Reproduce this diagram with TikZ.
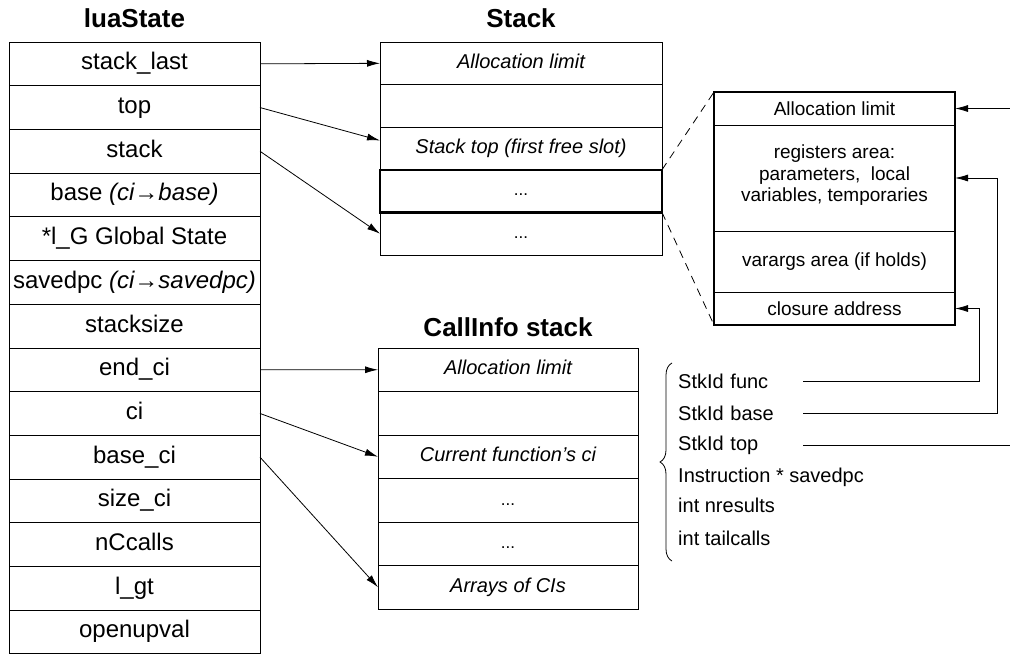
\documentclass[tikz,border=0pt]{standalone}
\usepackage{fontspec}
\setmainfont{Liberation Sans}
\usetikzlibrary{arrows.meta,positioning,decorations.pathreplacing}

\begin{document}
\begin{tikzpicture}[x=1pt, y=-1pt,
    cell/.style={rectangle, draw, line width=0.8pt, minimum width=251pt, minimum height=43.7pt, inner sep=0pt, outer sep=0pt, text height=17pt, text depth=5pt, font=\fontsize{24}{28}\selectfont},
    slot/.style={cell, minimum width=282pt, minimum height=42.6pt, text height=14pt, text depth=4.5pt, font=\fontsize{20}{24}\selectfont\itshape},
    cislot/.style={slot, minimum width=260pt, minimum height=43.5pt},
    dots/.style={font=\fontsize{17}{18}\selectfont},
    frame/.style={rectangle, draw, line width=0.8pt, minimum width=241pt, inner sep=0pt, outer sep=0pt, align=center, font=\fontsize{19}{21.5}\selectfont},
    title/.style={font=\fontsize{26}{30}\selectfont\bfseries},
    field/.style={anchor=west, inner sep=0pt, font=\fontsize{20}{24}\selectfont},
    ptr/.style={field, text width=125pt},
    link/.style={-{Latex[length=13pt,width=7pt]}, line width=0.8pt},
    zoomline/.style={dash pattern=on 8pt off 6pt, line width=0.8pt}]
    \useasboundingbox (0,0) rectangle (1010,654);

    \node [title] (luatitle) at (134.5,18) {luaState};
    \node [cell] (stacklast) at (134.5,63.85) {stack\_last};
    \node [cell, below=0pt of stacklast] (ltop) {top};
    \node [cell, below=0pt of ltop] (lstack) {stack};
    \node [cell, below=0pt of lstack] (lbase) {base \textit{(ci→base)}};
    \node [cell, below=0pt of lbase] (lg) {*l\_G Global State};
    \node [cell, below=0pt of lg] (lsavedpc) {savedpc \textit{(ci→savedpc)}};
    \node [cell, below=0pt of lsavedpc] (lsize) {stacksize};
    \node [cell, below=0pt of lsize] (endci) {end\_ci};
    \node [cell, below=0pt of endci] (lci) {ci};
    \node [cell, below=0pt of lci] (baseci) {base\_ci};
    \node [cell, below=0pt of baseci] (sizeci) {size\_ci};
    \node [cell, below=0pt of sizeci] (nccalls) {nCcalls};
    \node [cell, below=0pt of nccalls] (lgt) {l\_gt};
    \node [cell, below=0pt of lgt] (openupval) {openupval};

    \node [title] (stacktitle) at (521,18) {Stack};
    \node [slot] (alloc) at (521,63.3) {Allocation limit};
    \node [slot, below=0pt of alloc] (spare) {};
    \node [slot, below=0pt of spare] (stacktop) {Stack top (first free slot)};
    \node [slot, dots, line width=2.5pt, below=0pt of stacktop] (frameslot) {...};
    \node [slot, dots, below=0pt of frameslot] (older) {...};

    \node [title] (cititle) at (508,327) {CallInfo stack};
    \node [cislot] (cilimit) at (508,369.75) {Allocation limit};
    \node [cislot, below=0pt of cilimit] (cispare) {};
    \node [cislot, below=0pt of cispare] (cicur) {Current function's ci};
    \node [cislot, dots, below=0pt of cicur] (cidots) {...};
    \node [cislot, dots, below=0pt of cidots] (cidotsb) {...};
    \node [cislot, below=0pt of cidotsb] (ciarray) {Arrays of CIs};

    \node [frame, minimum height=33pt] (limit) at (834.5,108.5) {Allocation limit};
    \node [frame, minimum height=106pt, below=0pt of limit] (regs) {registers area:\\ parameters,\ \ local\\ variables, temporaries\\[-12pt]\mbox{}};
    \node [frame, minimum height=61pt, below=0pt of regs] (varargs) {varargs area (if holds)};
    \node [frame, minimum height=33pt, below=0pt of varargs] (closure) {closure address};
    \draw[line width=2pt] (limit.north west) rectangle (closure.south east);

    \node [ptr] (func) at (678,381) {StkId func};
    \node [ptr] (sbase) at (678,413) {StkId base};
    \node [ptr] (stop) at (678,445) {StkId top};
    \node [field] (savedpc) at (678,477) {Instruction * savedpc};
    \node [field] (nres) at (678,505) {int nresults};
    \node [field] (tail) at (678,538) {int tailcalls};
    \draw[decorate, decoration={brace, amplitude=12pt}, line width=0.8pt] (672,561) -- (672,363);

    \draw[link] (stacklast.east) -- (alloc.west);
    \draw[link] (ltop.east) -- ([yshift=8pt]stacktop.west);
    \draw[link] (lstack.east) -- (older.west);
    \draw[link] (endci.east) -- (cilimit.west);
    \draw[link] (lci.east) -- (cicur.west);
    \draw[link] (baseci.east) -- (ciarray.west);

    \draw[zoomline] (frameslot.north east) -- (limit.north west);
    \draw[zoomline] (frameslot.south east) -- (closure.south west);

    \draw[link] (func.east) -- ++(176,0) |- (closure.east);
    \draw[link] (sbase.east) -- ++(194,0) |- (regs.east);
    \draw[link] (stop.east) -- ++(212,0) |- (limit.east);
\end{tikzpicture}
\end{document}
